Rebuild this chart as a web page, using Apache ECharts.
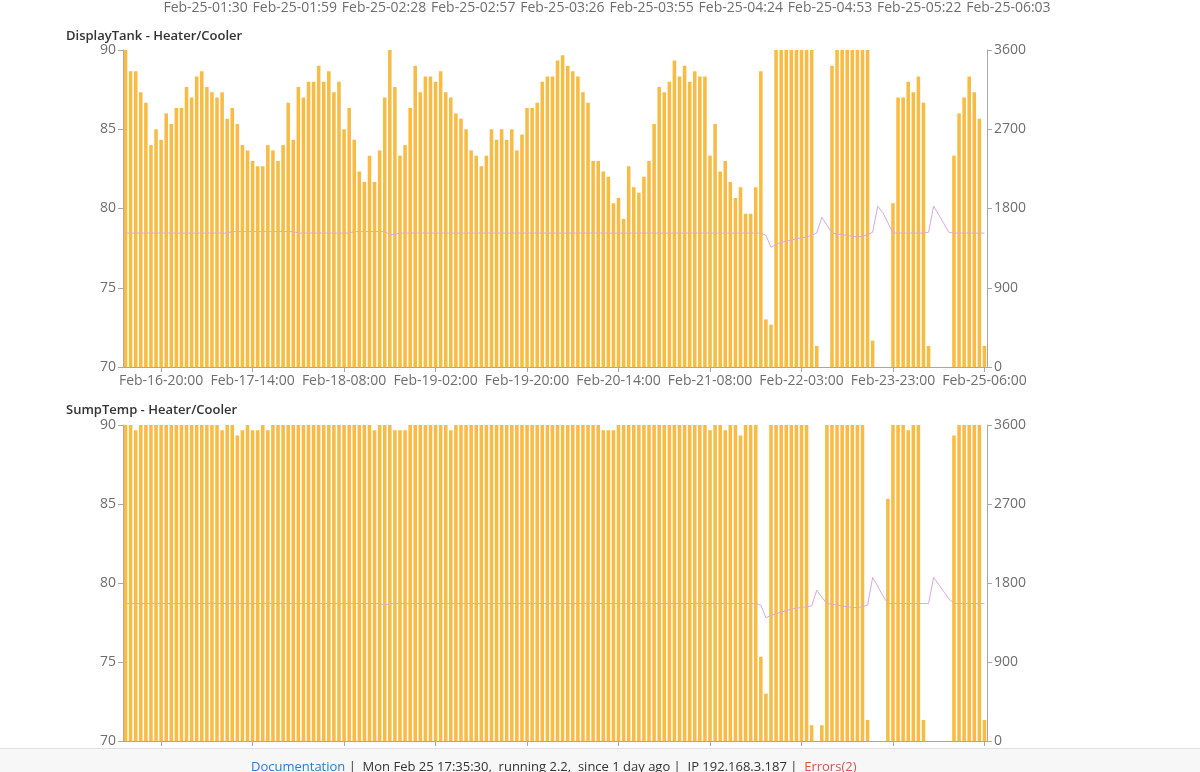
<!DOCTYPE html>
<html>
<head>
<meta charset="utf-8">
<title>Heater/Cooler</title>
<script src="https://cdn.jsdelivr.net/npm/echarts@6/dist/echarts.min.js"></script>
<style>
  html, body { margin: 0; padding: 0; background: #fff; }
  #chart { width: 1200px; height: 772px; }
  #footer {
    position: absolute; left: 0; top: 748px; width: 1200px; height: 24px;
    background: #f7f7f7; border-top: 1px solid #e0e0e0;
    font: 13px 'Open Sans', sans-serif; color: #333; white-space: pre;
  }
  #footer .txt { position: absolute; left: 251px; top: 8px; line-height: 18px; }
  #footer .doc { color: #2b7bd6; }
  #footer .err { color: #d9534f; }
</style>
</head>
<body>
<div id="chart"></div>
<div id="footer"><div class="txt"><span class="doc">Documentation</span> |  Mon Feb 25 17:35:30,  running 2.2,  since 1 day ago |  IP 192.168.3.187 |  <span class="err">Errors(2)</span></div></div>
<script>
// labels of the chart above (only its bottom axis is still visible)
const prevTickLabels = ['Feb-25-01:30', 'Feb-25-01:59', 'Feb-25-02:28', 'Feb-25-02:57', 'Feb-25-03:26',
  'Feb-25-03:55', 'Feb-25-04:24', 'Feb-25-04:53', 'Feb-25-05:22', 'Feb-25-06:03'];

// hourly slots, a label every 18 slots counted back from the last one
const tickLabels = ['Feb-16-20:00', 'Feb-17-14:00', 'Feb-18-08:00', 'Feb-19-02:00', 'Feb-19-20:00',
  'Feb-20-14:00', 'Feb-21-08:00', 'Feb-22-03:00', 'Feb-23-23:00', 'Feb-25-06:00'];
const tickStep = 18;

// heater on-time per hour (seconds), right axis
const displayHeater = [
  3600, 3360, 3360, 3120, 3000, 2520, 2700, 2580, 2880, 2760,
  2940, 2940, 3180, 3060, 3300, 3360, 3180, 3120, 3060, 3120,
  2820, 2940, 2760, 2520, 2460, 2340, 2280, 2280, 2520, 2460,
  2340, 2520, 3000, 2580, 3180, 3060, 3240, 3240, 3420, 3240,
  3360, 3120, 3240, 2700, 2940, 2580, 2220, 2100, 2400, 2100,
  2460, 3060, 3600, 3180, 2400, 2520, 2940, 3420, 3120, 3300,
  3300, 3240, 3360, 3120, 3060, 2880, 2820, 2700, 2460, 2400,
  2280, 2400, 2700, 2580, 2700, 2580, 2700, 2460, 2640, 2940,
  2940, 3000, 3240, 3300, 3300, 3480, 3540, 3420, 3360, 3300,
  3120, 3000, 2340, 2340, 2220, 2160, 1860, 1920, 1680, 2280,
  2040, 1980, 2160, 2340, 2760, 3180, 3120, 3240, 3480, 3300,
  3420, 3240, 3360, 3300, 3300, 2400, 2760, 2220, 2340, 2100,
  1920, 2040, 1740, 1740, 2040, 3360, 540, 480, 3600, 3600,
  3600, 3600, 3600, 3600, 3600, 3600, 240, 0, 0, 3420,
  3600, 3600, 3600, 3600, 3600, 3600, 3600, 300, 0, 0,
  0, 1860, 3060, 3060, 3240, 3120, 3300, 3000, 240, 0,
  0, 0, 0, 2400, 2880, 3060, 3300, 3120, 2820, 240
];
const sumpHeater = [
  3600, 3600, 3540, 3600, 3600, 3600, 3600, 3600, 3600, 3600,
  3600, 3600, 3600, 3600, 3600, 3600, 3600, 3600, 3600, 3540,
  3600, 3600, 3480, 3540, 3600, 3540, 3540, 3600, 3540, 3600,
  3600, 3600, 3600, 3600, 3600, 3600, 3600, 3600, 3600, 3600,
  3600, 3600, 3600, 3600, 3600, 3600, 3600, 3600, 3600, 3540,
  3600, 3600, 3600, 3540, 3540, 3540, 3600, 3600, 3600, 3600,
  3600, 3600, 3600, 3600, 3540, 3600, 3600, 3600, 3600, 3600,
  3600, 3600, 3600, 3600, 3600, 3600, 3600, 3600, 3600, 3600,
  3600, 3600, 3600, 3600, 3600, 3600, 3600, 3600, 3600, 3600,
  3600, 3600, 3600, 3600, 3540, 3540, 3540, 3600, 3600, 3600,
  3600, 3600, 3600, 3600, 3600, 3600, 3600, 3600, 3600, 3600,
  3600, 3600, 3600, 3600, 3600, 3540, 3600, 3600, 3540, 3600,
  3600, 3480, 3600, 3600, 3600, 960, 540, 3600, 3600, 3600,
  3600, 3600, 3600, 3600, 3600, 180, 0, 180, 3600, 3600,
  3600, 3600, 3600, 3600, 3600, 3600, 240, 0, 0, 0,
  2760, 3600, 3600, 3600, 3540, 3600, 3600, 240, 0, 0,
  0, 0, 0, 3480, 3600, 3600, 3600, 3600, 3600, 240
];

// temperature (left axis)
const displayTemp = [
  78.45, 78.45, 78.45, 78.45, 78.45, 78.45, 78.45, 78.45, 78.45, 78.45,
  78.45, 78.45, 78.45, 78.45, 78.45, 78.45, 78.45, 78.45, 78.45, 78.45,
  78.45, 78.55, 78.55, 78.55, 78.55, 78.55, 78.55, 78.55, 78.55, 78.55,
  78.55, 78.55, 78.55, 78.55, 78.45, 78.45, 78.45, 78.45, 78.45, 78.45,
  78.45, 78.45, 78.45, 78.45, 78.45, 78.55, 78.55, 78.55, 78.55, 78.55,
  78.55, 78.55, 78.35, 78.35, 78.45, 78.45, 78.45, 78.45, 78.45, 78.45,
  78.45, 78.45, 78.45, 78.45, 78.45, 78.45, 78.45, 78.45, 78.45, 78.45,
  78.45, 78.45, 78.45, 78.45, 78.45, 78.45, 78.45, 78.45, 78.45, 78.45,
  78.45, 78.45, 78.45, 78.45, 78.45, 78.45, 78.45, 78.45, 78.45, 78.45,
  78.45, 78.45, 78.45, 78.45, 78.45, 78.45, 78.45, 78.45, 78.45, 78.45,
  78.45, 78.45, 78.45, 78.45, 78.45, 78.45, 78.45, 78.45, 78.45, 78.45,
  78.45, 78.45, 78.45, 78.45, 78.45, 78.45, 78.45, 78.45, 78.45, 78.45,
  78.45, 78.45, 78.45, 78.45, 78.45, 78.45, 78.3, 77.55, 77.75, 77.85,
  77.95, 78.0, 78.1, 78.15, 78.2, 78.3, 78.45, 79.45, 78.95, 78.45,
  78.4, 78.35, 78.3, 78.25, 78.2, 78.25, 78.35, 78.5, 80.15, 79.75,
  79.1, 78.45, 78.45, 78.45, 78.45, 78.45, 78.45, 78.45, 78.5, 80.15,
  79.6, 79.05, 78.5, 78.45, 78.45, 78.45, 78.45, 78.45, 78.45, 78.45
];
const sumpTemp = [
  78.7, 78.7, 78.7, 78.7, 78.7, 78.7, 78.7, 78.7, 78.7, 78.7,
  78.7, 78.7, 78.7, 78.7, 78.7, 78.7, 78.7, 78.7, 78.7, 78.7,
  78.7, 78.7, 78.7, 78.7, 78.7, 78.7, 78.7, 78.7, 78.7, 78.7,
  78.7, 78.7, 78.7, 78.7, 78.7, 78.7, 78.7, 78.7, 78.7, 78.7,
  78.7, 78.7, 78.7, 78.7, 78.7, 78.7, 78.7, 78.7, 78.7, 78.7,
  78.7, 78.6, 78.7, 78.7, 78.7, 78.7, 78.7, 78.7, 78.7, 78.7,
  78.7, 78.7, 78.7, 78.7, 78.7, 78.7, 78.7, 78.7, 78.7, 78.7,
  78.7, 78.7, 78.7, 78.7, 78.7, 78.7, 78.7, 78.7, 78.7, 78.7,
  78.7, 78.7, 78.7, 78.7, 78.7, 78.7, 78.7, 78.7, 78.7, 78.7,
  78.7, 78.7, 78.7, 78.7, 78.7, 78.7, 78.7, 78.7, 78.7, 78.7,
  78.7, 78.7, 78.7, 78.7, 78.7, 78.7, 78.7, 78.7, 78.7, 78.7,
  78.7, 78.7, 78.7, 78.7, 78.7, 78.7, 78.7, 78.7, 78.7, 78.7,
  78.7, 78.7, 78.7, 78.7, 78.7, 78.6, 77.8, 77.95, 78.05, 78.15,
  78.25, 78.35, 78.4, 78.45, 78.5, 78.55, 79.55, 79.1, 78.7, 78.65,
  78.6, 78.55, 78.5, 78.45, 78.45, 78.5, 78.6, 80.35, 79.8, 79.2,
  78.7, 78.7, 78.7, 78.7, 78.7, 78.7, 78.7, 78.7, 78.7, 80.35,
  79.9, 79.45, 79.0, 78.7, 78.7, 78.7, 78.7, 78.7, 78.7, 78.7
];

const slotCount = displayHeater.length;
const lastSlot = slotCount - 1;
const firstTickSlot = lastSlot - tickStep * (tickLabels.length - 1);
const slots = displayHeater.map(function (v, i) {
  const k = i - firstTickSlot;
  return (k >= 0 && k % tickStep === 0) ? tickLabels[k / tickStep] : '';
});
const showTick = function (i) { return (lastSlot - i) % tickStep === 0; };

const FONT = "'Open Sans', sans-serif";
const labelColor = '#6e6e6e';
const axisColor = '#a8a8a8';
const barColor = '#f8bc45';
const lineColor = '#d9a8e2';

const grids = [
  { left: 161, width: 892, top: -32, height: 20 },
  { left: 123, right: 213, top: 50, height: 317 },
  { left: 123, right: 213, top: 425, height: 316 }
];

function slotAxis(gridIndex, showLabels) {
  return {
    type: 'category',
    gridIndex: gridIndex,
    data: slots,
    boundaryGap: true,
    axisLine: { show: true, lineStyle: { color: axisColor } },
    axisTick: { show: true, interval: showTick, alignWithLabel: true, length: 5, lineStyle: { color: axisColor } },
    axisLabel: { show: showLabels, interval: showTick, color: labelColor, fontSize: 14, fontFamily: FONT, margin: 7 }
  };
}

function tempAxis(gridIndex) {
  return {
    type: 'value', gridIndex: gridIndex, position: 'left',
    min: 70, max: 90, interval: 5,
    axisLine: { show: true, lineStyle: { color: axisColor } },
    axisTick: { show: true, length: 5, lineStyle: { color: axisColor } },
    splitLine: { show: false },
    axisLabel: { color: labelColor, fontSize: 14, fontFamily: FONT, margin: 7 }
  };
}

function secondsAxis(gridIndex) {
  return {
    type: 'value', gridIndex: gridIndex, position: 'right',
    min: 0, max: 3600, interval: 900,
    axisLine: { show: true, lineStyle: { color: axisColor } },
    axisTick: { show: true, length: 5, lineStyle: { color: axisColor } },
    splitLine: { show: false },
    axisLabel: { color: labelColor, fontSize: 14, fontFamily: FONT, margin: 7,
      formatter: function (v) { return String(v); } }
  };
}

const chart = echarts.init(document.getElementById('chart'), null, { renderer: 'canvas' });

chart.setOption({
  animation: false,
  backgroundColor: '#fff',
  textStyle: { fontFamily: FONT },
  title: [
    { text: 'DisplayTank - Heater/Cooler', left: 66, top: 30, padding: 0,
      textStyle: { fontSize: 13, fontWeight: 600, color: '#333', fontFamily: FONT } },
    { text: 'SumpTemp - Heater/Cooler', left: 66, top: 404, padding: 0,
      textStyle: { fontSize: 13, fontWeight: 600, color: '#333', fontFamily: FONT } }
  ],
  grid: grids,
  xAxis: [
    {
      type: 'category', gridIndex: 0, data: prevTickLabels,
      axisLine: { show: false }, axisTick: { show: false },
      axisLabel: { color: labelColor, fontSize: 14, fontFamily: FONT, margin: 8, interval: 0 }
    },
    slotAxis(1, true),
    slotAxis(2, false)
  ],
  yAxis: [
    { type: 'value', gridIndex: 0, show: false },
    tempAxis(1), secondsAxis(1),
    tempAxis(2), secondsAxis(2)
  ],
  series: [
    { name: 'DisplayTank heater', type: 'bar', xAxisIndex: 1, yAxisIndex: 2,
      data: displayHeater, barCategoryGap: '30%', itemStyle: { color: barColor } },
    { name: 'DisplayTank temp', type: 'line', xAxisIndex: 1, yAxisIndex: 1,
      data: displayTemp, symbol: 'none', lineStyle: { color: lineColor, width: 1 }, z: 5 },
    { name: 'SumpTemp heater', type: 'bar', xAxisIndex: 2, yAxisIndex: 4,
      data: sumpHeater, barCategoryGap: '30%', itemStyle: { color: barColor } },
    { name: 'SumpTemp temp', type: 'line', xAxisIndex: 2, yAxisIndex: 3,
      data: sumpTemp, symbol: 'none', lineStyle: { color: lineColor, width: 1 }, z: 5 }
  ]
});
</script>
</body>
</html>
